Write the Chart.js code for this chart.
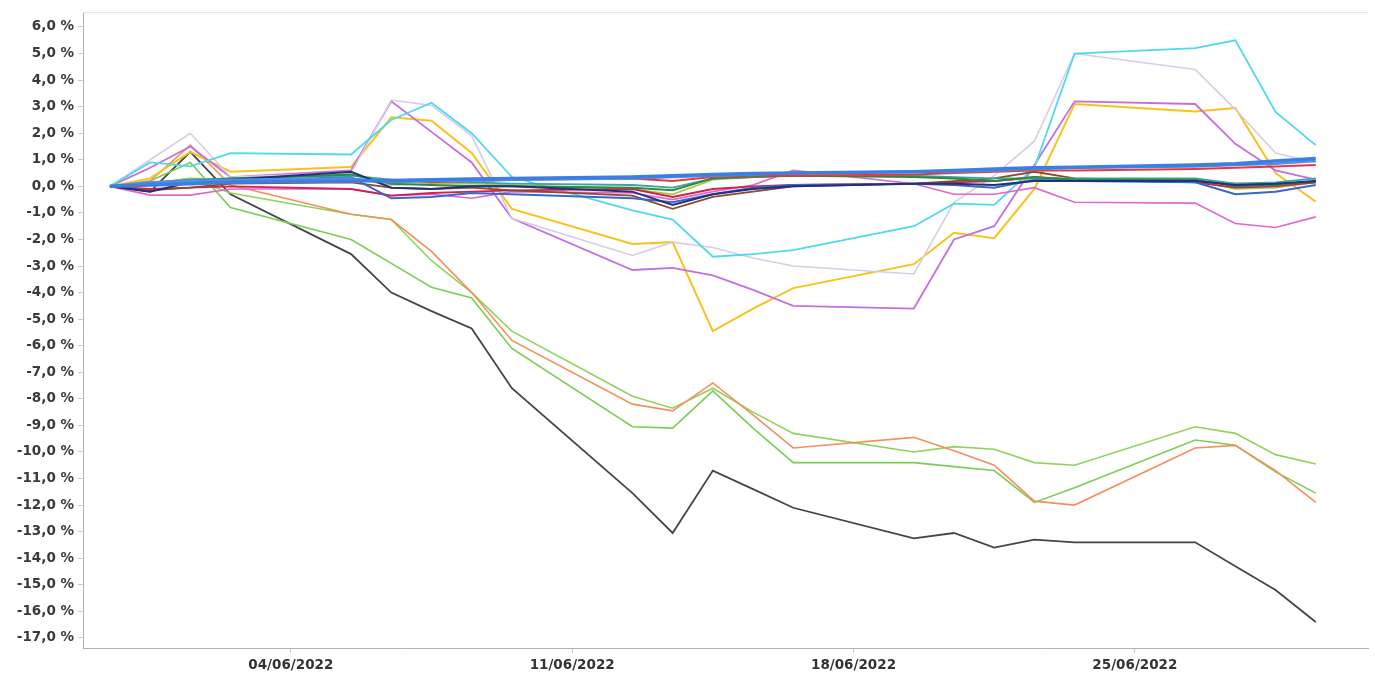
<!DOCTYPE html>
<html>
<head>
<meta charset="utf-8">
<script src="https://cdn.jsdelivr.net/npm/chart.js@4"></script>
<style>
  body { margin: 0; background: #fff; }
  canvas { display: block; }
</style>
</head>
<body>
<canvas id="myChart" width="1375" height="676"></canvas>
<script>
// trading days, counted in days from 31/05/2022
const days = [0, 1, 2, 3, 6, 7, 8, 9, 10, 13, 14, 15, 16, 17, 20, 21, 22, 23, 24, 27, 28, 29, 30]

const tickDays = [4.5, 11.5, 18.5, 25.5]
const tickLabels = ['04/06/2022', '11/06/2022', '18/06/2022', '25/06/2022']
const yTicks = [6, 5, 4, 3, 2, 1, 0, -1, -2, -3, -4, -5, -6, -7, -8, -9, -10, -11, -12, -13, -14, -15, -16, -17]

// performance in %, one value per trading day
const blueA = [0, 0.05, 0.1, 0.15, 0.2, 0.22, 0.25, 0.28, 0.3, 0.35, 0.4, 0.45, 0.48, 0.5, 0.55, 0.6, 0.65, 0.7, 0.72, 0.8, 0.85, 0.95, 1.05]
const blueB = [0, 0.15, 0.2, 0.25, 0.3, 0.15, 0.2, 0.2, 0.25, 0.3, 0.35, 0.4, 0.45, 0.5, 0.55, 0.55, 0.6, 0.65, 0.7, 0.75, 0.8, 0.85, 0.95]
const redA = [0, 0.05, 0.1, 0.15, 0.2, 0.25, 0.15, 0.2, 0.25, 0.3, 0.2, 0.35, 0.4, 0.4, 0.45, 0.5, 0.55, 0.6, 0.6, 0.65, 0.7, 0.75, 0.8]
const redB = [0, -0.1, -0.05, 0, -0.1, -0.35, -0.25, -0.2, -0.15, -0.1, -0.4, -0.1, 0, 0.05, 0.1, 0.15, 0.2, 0.35, 0.25, 0.15, -0.05, 0, 0.15]
const navy = [0, -0.2, 0.15, 0.25, 0.55, -0.05, -0.1, 0, 0, -0.2, -0.7, -0.3, -0.1, 0, 0.1, 0.1, 0.05, 0.2, 0.2, 0.2, 0.05, 0.1, 0.2]
const midBlue = [0, 0.05, 0.1, 0.2, 0.35, -0.45, -0.4, -0.25, -0.3, -0.45, -0.6, -0.3, -0.05, 0.05, 0.1, 0.05, -0.05, 0.25, 0.2, 0.15, -0.3, -0.2, 0.05]
const darkGreen = [0, 0.1, 0.2, 0.3, 0.45, 0.1, 0.05, 0, 0, -0.05, -0.15, 0.3, 0.35, 0.4, 0.35, 0.3, 0.2, 0.35, 0.25, 0.25, 0, 0.05, 0.2]
const brown = [0, -0.15, -0.05, 0.1, 0.15, -0.05, -0.1, -0.05, -0.15, -0.35, -0.85, -0.4, -0.2, 0, 0.1, 0.2, 0.3, 0.55, 0.3, 0.2, 0.1, 0.1, 0.15]
const teal = [0, 0.15, 0.25, 0.3, 0.4, 0.25, 0.2, 0.15, 0.1, 0.05, -0.05, 0.3, 0.35, 0.4, 0.4, 0.35, 0.3, 0.3, 0.3, 0.3, 0.1, 0.15, 0.3]
const lime = [0, 0.1, 0.3, 0.25, 0.3, 0.05, 0.1, 0.1, 0.05, -0.1, -0.3, 0.25, 0.35, 0.45, 0.4, 0.3, 0.2, 0.3, 0.25, 0.2, -0.1, -0.05, 0.15]
const pink = [0, -0.33, -0.33, -0.1, -0.1, -0.35, -0.3, -0.45, -0.2, -0.25, -0.5, -0.2, 0.05, 0.6, 0.1, -0.3, -0.3, -0.05, -0.6, -0.63, -1.4, -1.55, -1.15]
const cyan = [0, 0.9, 0.75, 1.25, 1.2, 2.5, 3.15, 2.0, 0.35, -0.9, -1.25, -2.65, -2.55, -2.4, -1.5, -0.65, -0.7, 0.7, 5.0, 5.2, 5.5, 2.8, 1.55]
const lavender = [0, 1.0, 2.0, 0.35, 0.5, 3.25, 3.05, 1.9, -1.2, -2.6, -2.1, -2.3, -2.7, -3.0, -3.3, -0.6, 0.4, 1.7, 5.0, 4.4, 2.9, 1.25, 0.9]
const purple = [0, 0.7, 1.5, 0.35, 0.6, 3.2, 2.05, 0.9, -1.2, -3.15, -3.07, -3.35, -3.9, -4.5, -4.6, -2.0, -1.5, 0.8, 3.2, 3.1, 1.6, 0.6, 0.25]
const yellow = [0, 0.3, 1.3, 0.55, 0.73, 2.6, 2.47, 1.26, -0.85, -2.17, -2.1, -5.45, -4.6, -3.83, -2.93, -1.75, -1.95, -0.1, 3.1, 2.82, 2.95, 0.5, -0.58]
const orange = [0, 0.2, 1.55, 0.05, -1.05, -1.25, -2.45, -4.0, -5.8, -8.2, -8.45, -7.4, -8.6, -9.85, -9.45, -9.95, -10.5, -11.85, -12.0, -9.85, -9.75, -10.7, -11.9]
const greenA = [0, 0.1, 0.3, -0.25, -1.05, -1.25, -2.8, -4.0, -5.45, -7.9, -8.35, -7.6, -8.5, -9.3, -10.0, -9.8, -9.9, -10.4, -10.5, -9.05, -9.3, -10.1, -10.45]
const greenB = [0, 0.2, 0.9, -0.8, -2.0, -2.9, -3.8, -4.2, -6.1, -9.05, -9.1, -7.7, -9.1, -10.4, -10.4, -10.55, -10.7, -11.9, -11.35, -9.55, -9.75, -10.75, -11.55]
const black = [0, -0.2, 1.3, -0.3, -2.55, -4.0, -4.7, -5.35, -7.6, -11.55, -13.05, -10.7, -11.4, -12.1, -13.25, -13.05, -13.6, -13.3, -13.4, -13.4, -14.3, -15.2, -16.4]

// first entry is drawn on top
const series = [
  [blueA, '#3d7fe0', 3.5],
  [blueB, '#4f8fea', 2.5],
  [redA, '#e8383c', 2],
  [navy, '#22307e', 2],
  [darkGreen, '#2c8a42', 2],
  [teal, '#3aa6a0', 1.8],
  [midBlue, '#3868c8', 2],
  [brown, '#8b4a2a', 1.8],
  [redB, '#d42050', 1.8],
  [lime, '#a8c840', 1.6],
  [pink, '#e266cc', 1.6],
  [cyan, '#4fd8ee', 1.8],
  [lavender, '#d6cde6', 1.6],
  [purple, '#c46ee0', 1.8],
  [yellow, '#f7c21c', 2],
  [orange, '#f4905c', 1.6],
  [greenA, '#8fd35c', 1.6],
  [greenB, '#7ccc55', 1.6],
  [black, '#454545', 1.8],
]

const datasets = series.map(function (s) {
  return {
    data: days.map((d, i) => ({ x: d, y: s[0][i] })),
    borderColor: s[1],
    borderWidth: s[2],
    fill: false,
    pointRadius: 0,
    tension: 0,
  }
})

const topBorder = {
  id: 'topBorder',
  afterDraw(chart) {
    const a = chart.chartArea
    const c = chart.ctx
    c.save()
    c.strokeStyle = '#e4e4ea'
    c.lineWidth = 1
    c.beginPath()
    c.moveTo(a.left, a.top + 0.5)
    c.lineTo(a.right, a.top + 0.5)
    c.stroke()
    c.restore()
  }
}

const labelFont = { family: 'DejaVu Sans', size: 13.5, weight: 'bold' }

const ctx = document.getElementById('myChart').getContext('2d')
const myChart = new Chart(ctx, {
  type: 'line',
  data: { datasets: datasets },
  plugins: [topBorder],
  options: {
    responsive: false,
    animation: false,
    layout: { padding: { top: 12, right: 7, left: 0, bottom: 0 } },
    plugins: {
      legend: { display: false },
      tooltip: { enabled: false },
    },
    scales: {
      x: {
        type: 'linear',
        min: -0.67,
        max: 31.3,
        afterBuildTicks: function (scale) {
          scale.ticks = tickDays.map(v => ({ value: v }))
        },
        afterFit: function (scale) { scale.height = 28 },
        ticks: {
          callback: v => tickLabels[tickDays.indexOf(v)],
          autoSkip: false,
          maxRotation: 0,
          padding: 4,
          color: '#333',
          font: labelFont,
        },
        grid: { drawOnChartArea: false, tickLength: 5, color: '#c8c8d0' },
        border: { color: '#b0b0be' },
      },
      y: {
        min: -17.38,
        max: 6.56,
        afterBuildTicks: function (scale) {
          scale.ticks = yTicks.map(v => ({ value: v }))
        },
        afterFit: function (scale) { scale.width = 83 },
        ticks: {
          callback: v => v.toFixed(1).replace('.', ',') + ' %',
          padding: 4,
          color: '#3a3a3a',
          font: labelFont,
        },
        grid: { drawOnChartArea: false, tickLength: 5, color: '#c8c8d0' },
        border: { color: '#b0b0be' },
      },
    },
  },
})
</script>
</body>
</html>
